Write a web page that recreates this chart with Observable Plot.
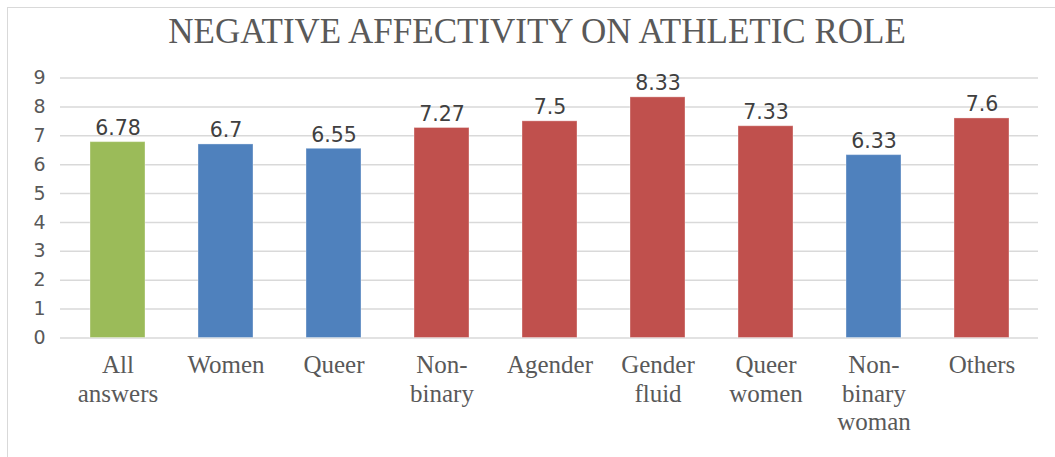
<!DOCTYPE html>
<html>
<head>
<meta charset="utf-8">
<script src="https://cdn.jsdelivr.net/npm/d3@7"></script>
<script src="https://cdn.jsdelivr.net/npm/@observablehq/plot@0.6"></script>
<style>
  html, body { margin: 0; padding: 0; background: #fff; }
  #wrap { position: relative; width: 1055px; height: 457px; overflow: hidden; background: #fff; }
  #frame { position: absolute; left: 7px; top: 7px; width: 1100px; height: 500px; border-left: 1px solid #d9d9d9; border-top: 1px solid #d9d9d9; box-sizing: border-box; }
  #title { position: absolute; top: 14px; left: 537px; transform: translateX(-50%); white-space: nowrap;
           font-family: "Liberation Serif", serif; font-size: 35px; line-height: 1; color: #595959; }
  #chart { position: absolute; left: 0; top: 50px; }
</style>
</head>
<body>
<div id="wrap">
  <div id="frame"></div>
  <div id="title">NEGATIVE AFFECTIVITY ON ATHLETIC ROLE</div>
  <div id="chart"></div>
</div>
<script>
const categories = ["All answers", "Women", "Queer", "Non-binary", "Agender", "Gender fluid", "Queer women", "Non-binary woman", "Others"];
const categoryLabels = ["All\nanswers", "Women", "Queer", "Non-\nbinary", "Agender", "Gender\nfluid", "Queer\nwomen", "Non-\nbinary\nwoman", "Others"];
const values = [6.78, 6.7, 6.55, 7.27, 7.5, 8.33, 7.33, 6.33, 7.6];
const valueLabels = ["6.78", "6.7", "6.55", "7.27", "7.5", "8.33", "7.33", "6.33", "7.6"];
const groups = ["overall", "women", "women", "other", "other", "other", "other", "women", "other"];
const groupDomain = ["overall", "women", "other"];
const groupColors = ["#9BBB59", "#4F81BD", "#C0504D"];
const yTicks = [0, 1, 2, 3, 4, 5, 6, 7, 8, 9];

const data = categories.map((c, i) => ({category: c, value: values[i], label: valueLabels[i], group: groups[i]}));
const labelOf = new Map(categories.map((c, i) => [c, categoryLabels[i]]));

const chart = Plot.plot({
  width: 1055,
  height: 407,
  marginTop: 27.5,
  marginBottom: 119.5,
  marginLeft: 60,
  marginRight: 17,
  style: {background: "transparent", overflow: "visible"},
  x: {domain: categories, paddingInner: 0.494, paddingOuter: 0.247, label: null},
  y: {domain: [0, 9], label: null},
  color: {domain: groupDomain, range: groupColors},
  marks: [
    Plot.ruleY(yTicks, {stroke: "#d9d9d9", strokeWidth: 1.5}),
    Plot.barY(data, {x: "category", y: "value", fill: "group", stroke: "#ffffff", strokeOpacity: 0.35, strokeWidth: 1}),
    Plot.text(data, {x: "category", y: "value", text: "label", lineAnchor: "bottom", dy: -7,
      fill: "#404040", fontSize: 20.5, fontFamily: "DejaVu Sans"}),
    Plot.axisY({ticks: yTicks, tickSize: 0, tickPadding: 15, fontSize: 19, fontFamily: "DejaVu Sans",
      color: "#595959", label: null}),
    Plot.axisX({tickSize: 0, tickPadding: 15, fontSize: 25, fontFamily: "Liberation Serif", lineHeight: 1.14,
      color: "#595959", tickFormat: d => labelOf.get(d), label: null})
  ]
});
document.getElementById("chart").appendChild(chart);
</script>
</body>
</html>
